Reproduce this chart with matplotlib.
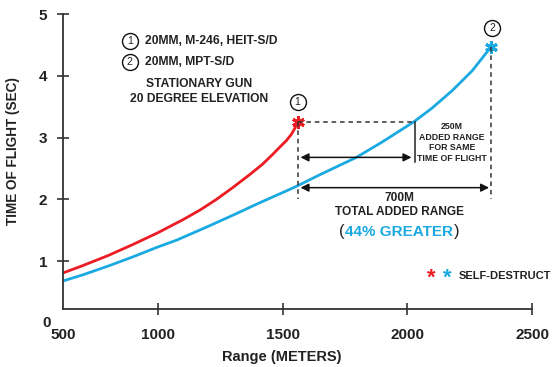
import matplotlib.pyplot as plt
from matplotlib import font_manager

names = {f.name for f in font_manager.fontManager.ttflist}
FAMILY = "Liberation Sans Narrow" if "Liberation Sans Narrow" in names else "Liberation Sans"
plt.rcParams["font.family"] = [FAMILY, "DejaVu Sans"]
plt.rcParams["font.weight"] = "bold"
plt.rcParams["axes.labelweight"] = "bold"

RED = "#ec1c24"
BLUE = "#1ba9e1"
INK = "#222222"

# data (axis left edge is the "500" mark)
red_range = [620, 700, 800, 900, 1000, 1100, 1170, 1235, 1300, 1368, 1420, 1461, 1490,
             1515, 1535, 1548, 1556, 1560]
red_tof = [0.81, 0.93, 1.09, 1.27, 1.46, 1.67, 1.83, 2.00, 2.19, 2.40, 2.57, 2.73, 2.85,
           2.95, 3.05, 3.14, 3.21, 3.26]
blue_range = [620, 700, 800, 900, 1000, 1075, 1200, 1315, 1400, 1500, 1555, 1650, 1796,
              1900, 2028, 2100, 2180, 2260, 2336]
blue_tof = [0.68, 0.78, 0.92, 1.07, 1.23, 1.34, 1.56, 1.77, 1.93, 2.11, 2.21, 2.40, 2.68,
            2.93, 3.26, 3.48, 3.76, 4.08, 4.47]

x_ticks = [620, 1000, 1500, 2000, 2500]
x_labels = ["500", "1000", "1500", "2000", "2500"]
y_ticks = [1, 2, 3, 4, 5]

end_red = (1560, 3.26)
end_blue = (2336, 4.47)
same_tof_range = 2032

fig = plt.figure(figsize=(5.53, 3.67), dpi=100)
ax = fig.add_axes([63 / 553, 44 / 367, 469 / 553, 309 / 367])
ax.set_xlim(620, 2500)
ax.set_ylim(0, 5)

base = 0.23
ax.spines["top"].set_visible(False)
ax.spines["right"].set_visible(False)
ax.spines["bottom"].set_position(("data", base))
ax.spines["left"].set_bounds(base, 5)
for s in ("left", "bottom"):
    ax.spines[s].set_color("#333333")
    ax.spines[s].set_linewidth(1.3)

ax.set_xticks(x_ticks)
ax.set_xticklabels(x_labels)
ax.set_yticks(y_ticks)
ax.tick_params(axis="x", direction="inout", length=9, width=1.2, color="#333333",
               labelsize=11, pad=9, labelcolor=INK)
ax.tick_params(axis="y", direction="inout", length=9, width=1.2, color="#333333",
               labelsize=11, pad=7, labelcolor=INK)
ax.get_xticklines()[0].set_visible(False)
ax.get_xticklines()[1].set_visible(False)
ax.text(-0.025, 0, "0", transform=ax.get_yaxis_transform(), ha="right", va="center",
        fontsize=11, color=INK, clip_on=False)

ax.set_xlabel("Range (METERS)", fontsize=10.5, color=INK)
ax.xaxis.set_label_coords(0.467, -0.088)
ax.set_ylabel("TIME OF FLIGHT (SEC)", fontsize=9.8, color=INK)
ax.yaxis.set_label_coords(-0.092, 0.557)

ax.plot(red_range, red_tof, color=RED, lw=2.0, solid_capstyle="butt",
        solid_joinstyle="round", clip_on=False)
ax.plot(blue_range, blue_tof, color=BLUE, lw=2.0, solid_capstyle="butt",
        solid_joinstyle="round", clip_on=False)

star = (6, 2, 0)
ax.plot(*end_red, marker=star, color=RED, ms=9, mew=2.2, clip_on=False)
ax.plot(*end_blue, marker=star, color=BLUE, ms=9, mew=2.2, clip_on=False)

# guides
dash = dict(color="#333333", lw=1.1, ls=(0, (3, 2.5)))
ax.plot([end_red[0], same_tof_range], [end_red[1], end_red[1]], **dash)
ax.plot([end_red[0], end_red[0]], [end_red[1], 2.0], **dash)
ax.plot([end_blue[0], end_blue[0]], [end_blue[1], 2.0], **dash)
ax.plot([same_tof_range, same_tof_range], [end_red[1], 2.6], color="#222222", lw=1.1)

arrow = dict(arrowstyle="<|-|>", color="#111111", lw=1.1, mutation_scale=12, shrinkA=0, shrinkB=0)
ax.annotate("", xy=(same_tof_range - 15, 2.68), xytext=(1572, 2.68), arrowprops=arrow)
ax.annotate("", xy=(end_blue[0] - 8, 2.19), xytext=(1572, 2.19), arrowprops=arrow)

ax.text(2180, 2.92, "250M\nADDED RANGE\nFOR SAME\nTIME OF FLIGHT", ha="center", va="center",
        fontsize=6.3, color=INK, linespacing=1.2)
ax.text(1968, 2.03, "700M", ha="center", va="center", fontsize=8.6, color=INK)
ax.text(1968, 1.79, "TOTAL ADDED RANGE", ha="center", va="center", fontsize=8.6, color=INK)
great = ax.text(1968, 1.47, "44% GREATER", ha="center", va="center", fontsize=11, color=BLUE)

fig.canvas.draw()
bb = great.get_window_extent(fig.canvas.get_renderer())
inv = ax.transData.inverted()
x_left = inv.transform((bb.x0 - 1, 0))[0]
x_right = inv.transform((bb.x1 + 1, 0))[0]
ax.text(x_left, 1.48, "(", ha="right", va="center", fontsize=12, color=INK, weight="normal")
ax.text(x_right, 1.48, ")", ha="left", va="center", fontsize=12, color=INK, weight="normal")


def circled(x, y, label, size=11.5):
    ax.plot(x, y, marker="o", ms=size, mfc="white", mec="#111111", mew=1.0, clip_on=False)
    ax.text(x, y, label, ha="center", va="center", fontsize=7.5, color=INK, weight="normal")


circled(1560, 3.58, "1")
circled(2340, 4.78, "2")
circled(888, 4.56, "1")
circled(888, 4.23, "2")
ax.text(948, 4.56, "20MM, M-246, HEIT-S/D", ha="left", va="center", fontsize=8.7, color=INK)
ax.text(948, 4.23, "20MM, MPT-S/D", ha="left", va="center", fontsize=8.7, color=INK)
ax.text(1165, 3.87, "STATIONARY GUN", ha="center", va="center", fontsize=8.7, color=INK)
ax.text(1165, 3.63, "20 DEGREE ELEVATION", ha="center", va="center", fontsize=8.7, color=INK)

ax.text(2096, 0.72, "*", ha="center", va="center", fontsize=16, color=RED)
ax.text(2160, 0.72, "*", ha="center", va="center", fontsize=16, color=BLUE)
ax.text(2205, 0.76, "SELF-DESTRUCT", ha="left", va="center", fontsize=8.0, color=INK)

fig.savefig("out.png", dpi=100)
